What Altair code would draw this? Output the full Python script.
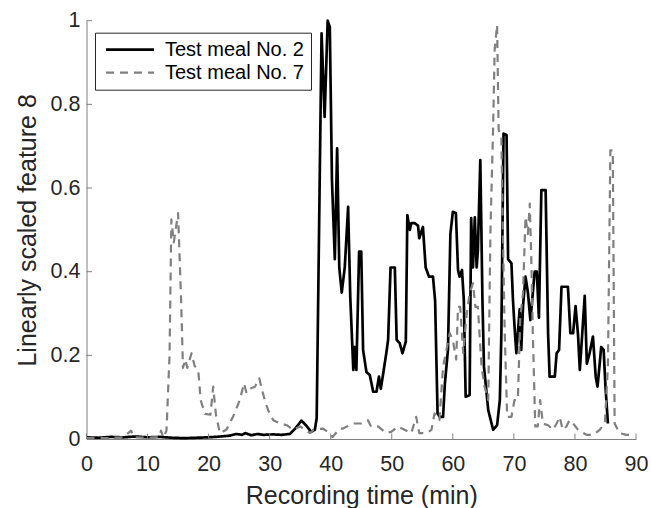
import altair as alt
import pandas as pd

# ---- data ----
meal2_t = [0, 2, 4, 6, 8, 10, 12, 14, 16, 18, 20, 22, 23.5, 24.5, 25.5, 26, 27, 28, 29, 30.5, 32, 33.3, 34.2,
           35.2, 36, 36.8, 37.4, 37.7, 38.5, 39.0, 39.5, 39.85, 40.2, 40.67, 41.05, 41.4, 41.8, 42.3, 42.85,
           43.2, 43.7, 43.95, 44.2, 44.65, 45.0, 45.3, 45.85, 46.4, 46.95, 47.5, 47.9, 48.2, 48.6, 49.1, 49.4,
           49.8, 50.5, 50.8, 51.3, 51.75, 52.3, 52.55, 52.95, 53.2, 53.75, 54.3, 54.5, 55.1, 55.55, 56.1, 56.75,
           57.1, 57.5, 57.85, 58.4, 58.7, 59.2, 59.6, 60.0, 60.5, 60.85, 61.1, 61.5, 61.8, 62.1, 62.75, 63.0,
           63.3, 63.6, 63.9, 64.1, 64.5, 64.85, 65.1, 65.8, 66.6, 67.25, 67.7, 67.95, 68.3, 68.8, 69.05, 69.6,
           69.85, 70.1, 70.4, 70.65, 70.95, 71.2, 71.5, 71.9, 72.3, 72.7, 73.0, 73.4, 73.75, 74.1, 74.5, 75.2,
           75.6, 75.85, 76.7, 77.0, 77.4, 77.8, 78.85, 79.25, 79.7, 80.1, 80.5, 80.8, 81.2, 81.6, 81.95, 82.4,
           82.95, 83.4, 83.7, 84.05, 84.3, 84.7, 85.0, 85.4]
meal2_v = [0.004, 0.003, 0.005, 0.004, 0.006, 0.004, 0.005, 0.003, 0.002, 0.003, 0.004, 0.006, 0.008, 0.012,
           0.010, 0.014, 0.009, 0.012, 0.010, 0.011, 0.010, 0.012, 0.025, 0.044, 0.032, 0.017, 0.022, 0.05,
           0.97, 0.77, 1.0, 0.985, 0.62, 0.43, 0.695, 0.41, 0.35, 0.41, 0.555, 0.34, 0.165, 0.22, 0.165, 0.448,
           0.448, 0.213, 0.16, 0.153, 0.113, 0.113, 0.149, 0.12, 0.157, 0.205, 0.237, 0.41, 0.41, 0.237, 0.229,
           0.205, 0.233, 0.535, 0.5, 0.516, 0.516, 0.51, 0.48, 0.507, 0.41, 0.388, 0.388, 0.33, 0.061, 0.053,
           0.053, 0.133, 0.213, 0.49, 0.543, 0.54, 0.404, 0.388, 0.404, 0.332, 0.101, 0.105, 0.528, 0.41, 0.53,
           0.41, 0.45, 0.667, 0.332, 0.173, 0.069, 0.022, 0.033, 0.093, 0.253, 0.73, 0.727, 0.43, 0.42, 0.332,
           0.27, 0.205, 0.253, 0.31, 0.213, 0.318, 0.388, 0.35, 0.284, 0.332, 0.4, 0.4, 0.29, 0.595, 0.595,
           0.253, 0.149, 0.149, 0.205, 0.213, 0.364, 0.364, 0.253, 0.253, 0.318, 0.25, 0.165, 0.253, 0.342,
           0.18, 0.205, 0.245, 0.149, 0.125, 0.18, 0.22, 0.213, 0.125, 0.037]

meal7_t = [0, 3, 6, 7.3, 7.8, 10, 12, 12.2, 12.6, 13.1, 13.6, 13.9, 14.3, 15.0, 15.5, 15.8, 16.2, 16.5, 17.2,
           17.7, 18.3, 18.7, 19.4, 20.3, 20.75, 21.2, 21.85, 22.9, 24.0, 25.1, 25.8, 26.2, 26.75, 27.6, 28.3,
           28.7, 29.2, 29.75, 30.6, 31.7, 32.8, 33.85, 35.0, 36.6, 37.2, 38.75, 39.5, 40.3, 41.5, 42.0, 43.65,
           45.0, 46.1, 46.6, 47.75, 49.1, 49.9, 51.0, 52.1, 53.2, 54.0, 54.5, 55.7, 56.5, 57.0, 57.8, 58.4,
           58.95, 59.5, 60.0, 60.55, 60.85, 61.2, 61.7, 62.2, 62.75, 63.3, 63.7, 64.1, 64.7, 65.2, 65.8, 66.15,
           66.6, 66.85, 67.25, 67.5, 67.95, 68.2, 68.5, 68.9, 69.6, 70.1, 70.65, 71.05, 71.5, 71.9, 72.3, 72.6,
           72.85, 73.1, 73.5, 73.9, 74.3, 74.75, 75.6, 76.4, 77.0, 77.5, 78.0, 78.6, 79.1, 79.7, 80.5, 81.9,
           83.0, 84.05, 84.9, 85.4, 85.8, 86.2, 86.5, 87.3, 88.4, 89.75]
meal7_v = [0.003, 0.002, 0.004, 0.02, 0.004, 0.003, 0.005, 0.02, 0.003, 0.02, 0.2, 0.525, 0.47, 0.54, 0.33,
           0.17, 0.19, 0.17, 0.205, 0.175, 0.165, 0.093, 0.06, 0.058, 0.125, 0.058, 0.014, 0.022, 0.053, 0.093,
           0.133, 0.11, 0.12, 0.125, 0.145, 0.12, 0.093, 0.069, 0.045, 0.037, 0.033, 0.022, 0.03, 0.014, 0.022,
           0.025, 0.017, 0.005, 0.025, 0.025, 0.037, 0.037, 0.045, 0.03, 0.03, 0.014, 0.017, 0.03, 0.022, 0.014,
           0.053, 0.014, 0.014, 0.022, 0.061, 0.045, 0.173, 0.213, 0.253, 0.237, 0.19, 0.316, 0.316, 0.205,
           0.29, 0.348, 0.372, 0.316, 0.316, 0.173, 0.125, 0.093, 0.49, 0.747, 0.93, 0.99, 0.74, 0.72, 0.49,
           0.253, 0.053, 0.053, 0.093, 0.093, 0.29, 0.35, 0.531, 0.49, 0.563, 0.43, 0.253, 0.03, 0.03, 0.093,
           0.037, 0.033, 0.022, 0.037, 0.053, 0.022, 0.03, 0.045, 0.037, 0.022, 0.01, 0.01, 0.022, 0.037,
           0.173, 0.69, 0.69, 0.037, 0.014, 0.01, 0.01]

series_names = ["Test meal No. 2", "Test meal No. 7"]
x_ticks = [0, 10, 20, 30, 40, 50, 60, 70, 80, 90]
y_ticks = [0, 0.2, 0.4, 0.6, 0.8, 1]

# ---- tables ----
rows = []
for t, v in zip(meal2_t, meal2_v):
    rows.append({"t": t, "v": v, "series": series_names[0], "order": len(rows)})
for t, v in zip(meal7_t, meal7_v):
    rows.append({"t": t, "v": v, "series": series_names[1], "order": len(rows)})
df = pd.DataFrame(rows)
xt = pd.DataFrame({"t": x_ticks})
yt = pd.DataFrame({"v": y_ticks})

W, H = 549.5, 418.3
FONT = "Liberation Sans"
TXT = "#262626"
AX = "#808080"

xscale = alt.Scale(domain=[0, 90], nice=False, zero=False)
yscale = alt.Scale(domain=[0, 1], nice=False)


def x_axis():
    return alt.Axis(title="Recording time (min)", values=x_ticks, ticks=False, tickSize=0,
                    labelFlush=False, labelOverlap=False,
                    labelPadding=14.5, titleBaseline="alphabetic", titleY=64, titleX=W / 2)


def y_axis():
    return alt.Axis(title="Linearly scaled feature 8", values=y_ticks, ticks=False, tickSize=0,
                    labelFlush=False, labelOverlap=False,
                    labelPadding=6.5, format=".1~f", titleBaseline="alphabetic",
                    titleX=-51.5, titleY=H / 2, titleAngle=270)


def legend_spec():
    return alt.Legend(title=None, orient="none", legendX=8.5, legendY=12,
                      strokeColor="#262626", fillColor="white", padding=7,
                      symbolType="M-1,0H7", symbolSize=144, symbolStrokeWidth=2.5,
                      labelFontSize=20, labelFont=FONT, labelColor="#000000",
                      labelOffset=43, rowPadding=3, labelLimit=300)


lines = alt.Chart(df).mark_line(strokeJoin="round").encode(
    x=alt.X("t:Q", scale=xscale, axis=x_axis()),
    y=alt.Y("v:Q", scale=yscale, axis=y_axis()),
    color=alt.Color("series:N",
                    scale=alt.Scale(domain=series_names, range=["#000000", "#808080"]),
                    legend=legend_spec()),
    strokeDash=alt.StrokeDash("series:N",
                              scale=alt.Scale(domain=series_names, range=[[1, 0], [8, 6]]),
                              legend=legend_spec()),
    strokeWidth=alt.StrokeWidth("series:N",
                                scale=alt.Scale(domain=series_names, range=[2.7, 2.2]),
                                legend=None),
    order="order:Q",
)

xticks = alt.Chart(xt).mark_rule(color=AX, strokeWidth=1).encode(
    x=alt.X("t:Q", scale=xscale, axis=x_axis()),
    y=alt.value(H),
    y2=alt.value(H - 5.5),
)
yticks = alt.Chart(yt).mark_rule(color=AX, strokeWidth=1).encode(
    y=alt.Y("v:Q", scale=yscale, axis=y_axis()),
    x=alt.value(0),
    x2=alt.value(5.5),
)

chart = alt.layer(lines, xticks, yticks).properties(
    width=W, height=H,
    autosize=alt.AutoSizeParams(type="none"),
    padding={"left": 86.5, "top": 20.7, "right": 15, "bottom": 69},
    background="white",
).configure_view(stroke=None).configure_axis(
    grid=False, domainColor=AX, domainWidth=1,
    labelFont=FONT, labelFontSize=21.5, labelColor=TXT,
    titleFont=FONT, titleFontSize=25, titleColor=TXT, titleFontWeight="normal",
)

chart.save("out.html", embed_options={"renderer": "svg", "actions": False})
